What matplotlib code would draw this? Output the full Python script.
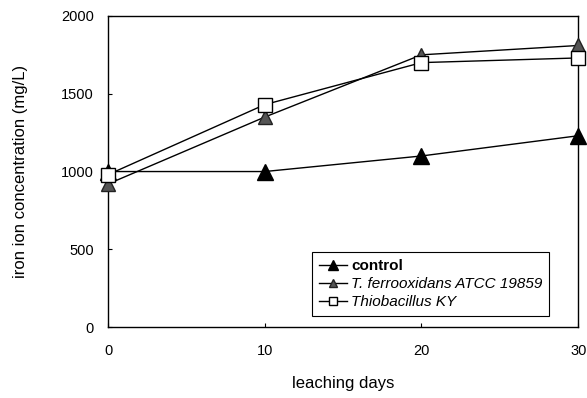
import matplotlib.pyplot as plt

plt.rcParams['font.family'] = ['Liberation Sans', 'DejaVu Sans']

days = [0, 10, 20, 30]
control = [1000, 1000, 1100, 1230]
t_ferro = [920, 1350, 1750, 1810]
thio_ky = [980, 1430, 1700, 1730]

fig = plt.figure(figsize=(5.87, 3.98), dpi=100)
ax = fig.add_axes([0.184, 0.178, 0.801, 0.782])

ax.plot(days, control, color='black', lw=1, marker='^', markersize=11,
        markerfacecolor='black', markeredgecolor='black', label='control',
        zorder=3, clip_on=False)
ax.plot(days, t_ferro, color='black', lw=1, marker='^', markersize=10,
        markerfacecolor='#555555', markeredgecolor='#222222',
        label='T. ferrooxidans ATCC 19859', zorder=4, clip_on=False)
ax.plot(days, thio_ky, color='black', lw=1, marker='s', markersize=10,
        markerfacecolor='white', markeredgecolor='black',
        label='Thiobacillus KY', zorder=5, clip_on=False)

ax.set_xlim(0, 30)
ax.set_ylim(0, 2000)
ax.set_xticks([0, 10, 20, 30])
ax.set_yticks([0, 500, 1000, 1500, 2000])
ax.tick_params(direction='in', length=3, labelsize=10.5)
ax.tick_params(axis='x', pad=12)
ax.tick_params(axis='y', pad=10)
for s in ax.spines.values():
    s.set_linewidth(1)

ax.set_xlabel('leaching days', fontsize=12, labelpad=13)
ax.set_ylabel('iron ion concentration (mg/L)', fontsize=12, labelpad=24)

leg = ax.legend(loc='lower right', bbox_to_anchor=(0.955, 0.012), fontsize=11,
                fancybox=False, edgecolor='black', framealpha=1,
                handlelength=1.8, markerscale=0.6, borderpad=0.45,
                labelspacing=0.25, handletextpad=0.3)
leg.get_frame().set_linewidth(0.8)
texts = leg.get_texts()
texts[0].set_fontweight('bold')
texts[1].set_fontstyle('italic')
texts[2].set_fontstyle('italic')

fig.savefig('out.png', dpi=100)
